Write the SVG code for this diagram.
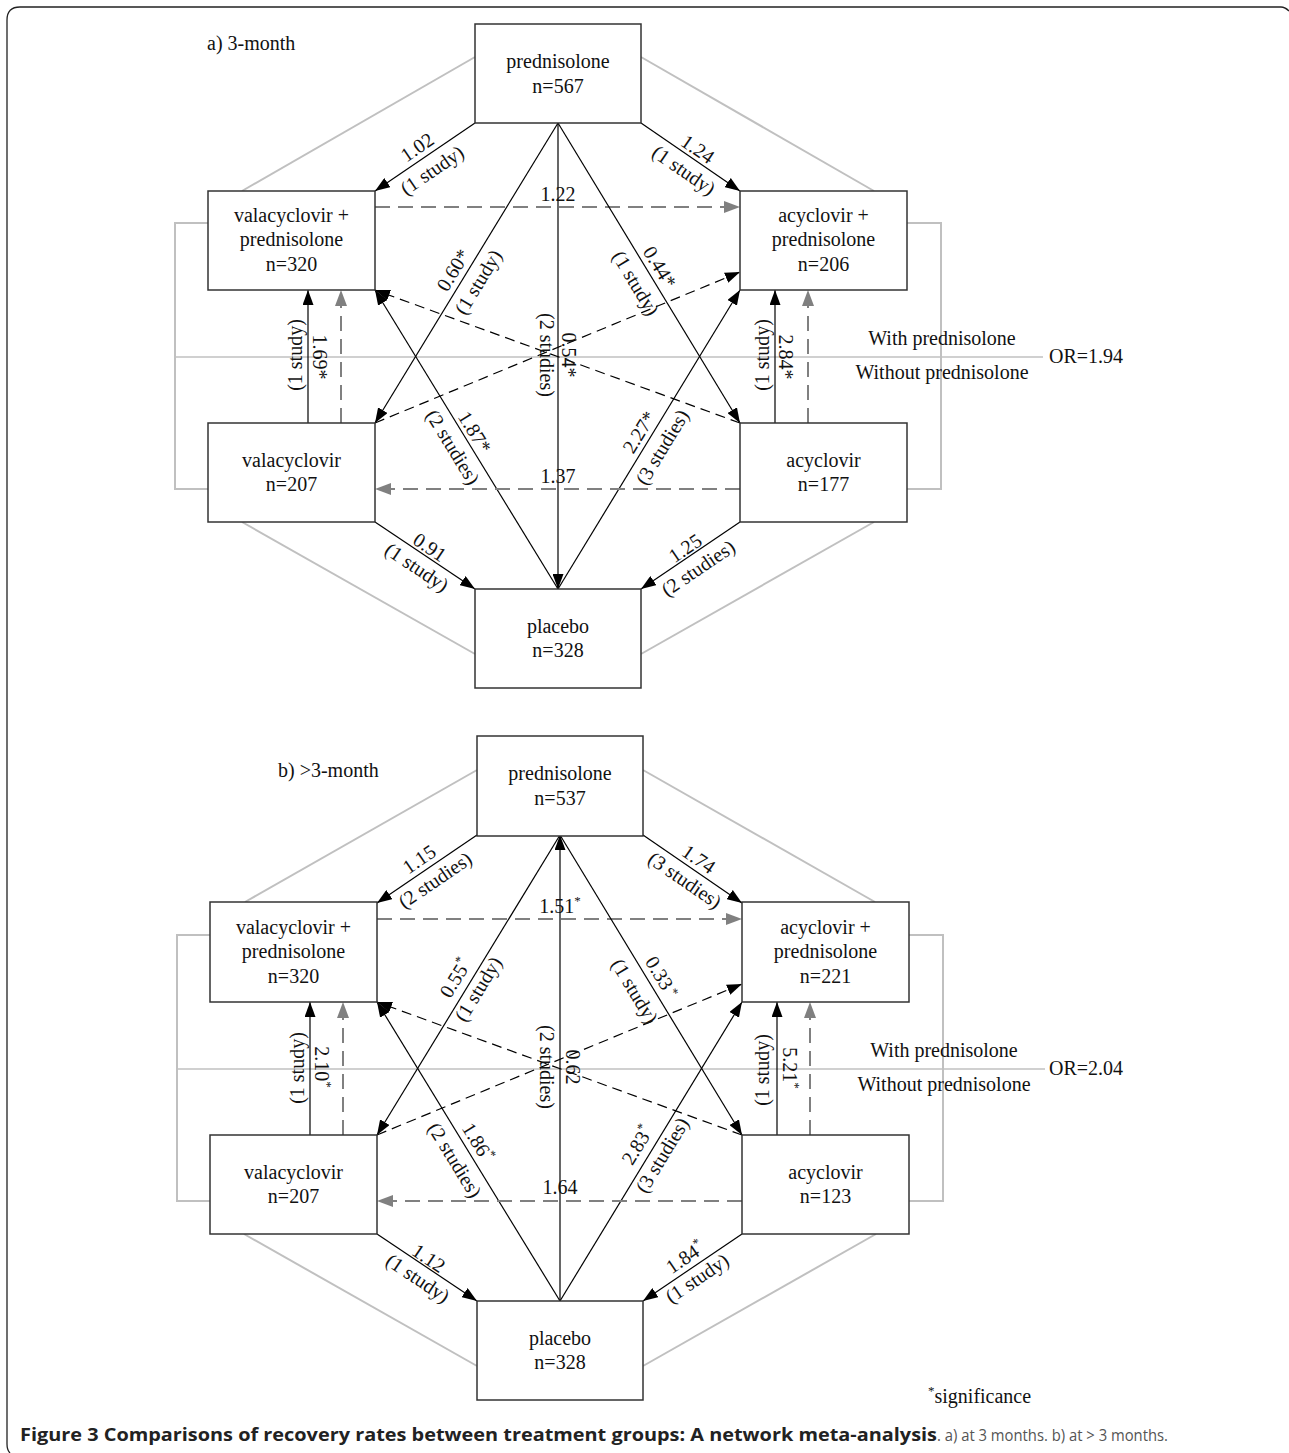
<svg xmlns="http://www.w3.org/2000/svg" width="1289" height="1453" viewBox="0 0 1289 1453">
<style>
.bx{fill:#fff;stroke:#333;stroke-width:1.5}
.t{font-family:"Liberation Serif","Times New Roman",serif;font-size:20px;fill:#111;text-anchor:middle}
.tl{font-family:"Liberation Serif","Times New Roman",serif;font-size:20px;fill:#111}
.sup{font-size:13px}
.e{stroke:#000;stroke-width:1.2;fill:none}
.bd{stroke:#000;stroke-width:1.2;stroke-dasharray:10 6;fill:none}
.gd{stroke:#808080;stroke-width:2;stroke-dasharray:15 8;fill:none}
.gl{stroke:#c0c0c0;stroke-width:2;fill:none}
.dv{stroke:#c0c0c0;stroke-width:1.3;fill:none}
.cap{font-family:"Open Sans","Noto Sans",sans-serif;font-size:17px}
</style>
<defs>
<marker id="ab" markerUnits="userSpaceOnUse" markerWidth="15" markerHeight="11" refX="15" refY="5.5" orient="auto"><path d="M0,0 L15,5.5 L0,11 z" fill="#000"/></marker>
<marker id="ag" markerUnits="userSpaceOnUse" markerWidth="16" markerHeight="12" refX="16" refY="6" orient="auto"><path d="M0,0 L16,6 L0,12 z" fill="#808080"/></marker>
</defs>
<rect width="1289" height="1453" fill="#fff"/>
<path d="M10,1453 Q7,1450 7,1444 L7,20 Q7,7 20,7 L1281,7 Q1285,7 1289,11" fill="none" stroke="#222" stroke-width="1.3"/>

<!-- Panel a -->
<g id="panel-a">
<text class="tl" x="207" y="50">a) 3-month</text>
<g id="a-background">
<line class="gl" x1="475" y1="57" x2="242" y2="191"/>
<line class="gl" x1="641" y1="57" x2="874" y2="191"/>
<polyline class="gl" points="208,223 175,223 175,489 208,489"/>
<polyline class="gl" points="907,223 941,223 941,489 907,489"/>
<line class="gl" x1="242" y1="522" x2="475" y2="654"/>
<line class="gl" x1="874" y1="522" x2="641" y2="654"/>
<line class="dv" x1="175" y1="357" x2="1043" y2="357"/>
<text class="t" x="942" y="345">With prednisolone</text>
<text class="t" x="942" y="379">Without prednisolone</text>
<text class="tl" x="1049" y="363">OR=1.94</text>
</g>
<g id="a-connectors">
<line class="e" x1="475" y1="123" x2="375" y2="191" marker-end="url(#ab)"/>
<line class="e" x1="641" y1="123" x2="740" y2="191" marker-end="url(#ab)"/>
<line class="gd" x1="375" y1="207" x2="740" y2="207" marker-end="url(#ag)"/>
<line class="e" x1="558" y1="123" x2="375" y2="423" marker-end="url(#ab)"/>
<line class="e" x1="558" y1="123" x2="740" y2="423" marker-end="url(#ab)"/>
<line class="e" x1="558" y1="123" x2="558" y2="589" marker-end="url(#ab)"/>
<line class="e" x1="558" y1="589" x2="375" y2="290" marker-end="url(#ab)"/>
<line class="e" x1="558" y1="589" x2="740" y2="290" marker-end="url(#ab)"/>
<line class="bd" x1="375" y1="423" x2="740" y2="272" marker-end="url(#ab)"/>
<line class="bd" x1="740" y1="423" x2="375" y2="290" marker-end="url(#ab)"/>
<line class="e" x1="308" y1="423" x2="308" y2="290" marker-end="url(#ab)"/>
<line class="gd" x1="341" y1="423" x2="341" y2="290" marker-end="url(#ag)"/>
<line class="e" x1="775" y1="423" x2="775" y2="290" marker-end="url(#ab)"/>
<line class="gd" x1="808" y1="423" x2="808" y2="290" marker-end="url(#ag)"/>
<line class="gd" x1="740" y1="489" x2="375" y2="489" marker-end="url(#ag)"/>
<line class="e" x1="375" y1="522" x2="475" y2="589" marker-end="url(#ab)"/>
<line class="e" x1="740" y1="522" x2="641" y2="589" marker-end="url(#ab)"/>
</g>
<g id="a-labels">
<text class="t" transform="translate(417,147) rotate(-34.2)" y="7">1.02</text>
<text class="t" transform="translate(432,170) rotate(-34.2)" y="7">(1 study)</text>
<text class="t" transform="translate(698,149) rotate(34.5)" y="7">1.24</text>
<text class="t" transform="translate(684,170) rotate(34.5)" y="7">(1 study)</text>
<text class="t" x="558" y="201">1.22</text>
<text class="t" transform="translate(453,270) rotate(-58.6)" y="7">0.60*</text>
<text class="t" transform="translate(478,282) rotate(-58.6)" y="7">(1 study)</text>
<text class="t" transform="translate(660,267) rotate(58.8)" y="7">0.44*</text>
<text class="t" transform="translate(636,283) rotate(58.8)" y="7">(1 study)</text>
<text class="t" transform="translate(547,355) rotate(90)" y="7">(2 studies)</text>
<text class="t" transform="translate(569,355) rotate(90)" y="7">0.54*</text>
<text class="t" transform="translate(475,432) rotate(58.5)" y="7">1.87*</text>
<text class="t" transform="translate(453,447) rotate(58.5)" y="7">(2 studies)</text>
<text class="t" transform="translate(639,432) rotate(-58.7)" y="7">2.27*</text>
<text class="t" transform="translate(662,447) rotate(-58.7)" y="7">(3 studies)</text>
<text class="t" transform="translate(295,355) rotate(-90)" y="7">(1 study)</text>
<text class="t" transform="translate(320,357) rotate(90)" y="7">1.69*</text>
<text class="t" transform="translate(762,355) rotate(-90)" y="7">(1 study)</text>
<text class="t" transform="translate(786,357) rotate(90)" y="7">2.84*</text>
<text class="t" x="558" y="483">1.37</text>
<text class="t" transform="translate(430,547) rotate(33.8)" y="7">0.91</text>
<text class="t" transform="translate(417,567) rotate(33.8)" y="7">(1 study)</text>
<text class="t" transform="translate(685,548) rotate(-34.1)" y="7">1.25</text>
<text class="t" transform="translate(698,568) rotate(-34.1)" y="7">(2 studies)</text>
</g>
<g id="a-prednisolone"><rect class="bx" x="475" y="24" width="166" height="99"/><text class="t" x="558" y="68">prednisolone</text><text class="t" x="558" y="93">n=567</text></g>
<g id="a-valpred"><rect class="bx" x="208" y="191" width="167" height="99"/><text class="t" x="291.5" y="222">valacyclovir +</text><text class="t" x="291.5" y="246">prednisolone</text><text class="t" x="291.5" y="271">n=320</text></g>
<g id="a-acypred"><rect class="bx" x="740" y="191" width="167" height="99"/><text class="t" x="823.5" y="222">acyclovir +</text><text class="t" x="823.5" y="246">prednisolone</text><text class="t" x="823.5" y="271">n=206</text></g>
<g id="a-val"><rect class="bx" x="208" y="423" width="167" height="99"/><text class="t" x="291.5" y="467">valacyclovir</text><text class="t" x="291.5" y="491">n=207</text></g>
<g id="a-acy"><rect class="bx" x="740" y="423" width="167" height="99"/><text class="t" x="823.5" y="467">acyclovir</text><text class="t" x="823.5" y="491">n=177</text></g>
<g id="a-placebo"><rect class="bx" x="475" y="589" width="166" height="99"/><text class="t" x="558" y="633">placebo</text><text class="t" x="558" y="657">n=328</text></g>
</g>

<!-- Panel b -->
<text class="tl" x="278" y="777">b) &gt;3-month</text>
<g id="panel-b" transform="translate(2,712)">
<g id="b-background">
<line class="gl" x1="475" y1="58" x2="243" y2="190"/>
<line class="gl" x1="641" y1="58" x2="873" y2="190"/>
<polyline class="gl" points="208,223 175,223 175,489 208,489"/>
<polyline class="gl" points="907,223 941,223 941,489 907,489"/>
<line class="gl" x1="242" y1="522" x2="475" y2="654"/>
<line class="gl" x1="874" y1="522" x2="641" y2="654"/>
<line class="dv" x1="175" y1="357" x2="1043" y2="357"/>
<text class="t" x="942" y="345">With prednisolone</text>
<text class="t" x="942" y="379">Without prednisolone</text>
<text class="tl" x="1047" y="363">OR=2.04</text>
</g>
<g id="b-connectors">
<line class="e" x1="475" y1="123" x2="375" y2="191" marker-end="url(#ab)"/>
<line class="e" x1="641" y1="123" x2="740" y2="191" marker-end="url(#ab)"/>
<line class="gd" x1="375" y1="207" x2="740" y2="207" marker-end="url(#ag)"/>
<line class="e" x1="558" y1="123" x2="375" y2="423" marker-end="url(#ab)"/>
<line class="e" x1="558" y1="123" x2="740" y2="423" marker-end="url(#ab)"/>
<line class="e" x1="558" y1="589" x2="558" y2="123" marker-end="url(#ab)"/>
<line class="e" x1="558" y1="589" x2="375" y2="290" marker-end="url(#ab)"/>
<line class="e" x1="558" y1="589" x2="740" y2="290" marker-end="url(#ab)"/>
<line class="bd" x1="375" y1="423" x2="740" y2="272" marker-end="url(#ab)"/>
<line class="bd" x1="740" y1="423" x2="375" y2="290" marker-end="url(#ab)"/>
<line class="e" x1="308" y1="423" x2="308" y2="290" marker-end="url(#ab)"/>
<line class="gd" x1="341" y1="423" x2="341" y2="290" marker-end="url(#ag)"/>
<line class="e" x1="775" y1="423" x2="775" y2="290" marker-end="url(#ab)"/>
<line class="gd" x1="808" y1="423" x2="808" y2="290" marker-end="url(#ag)"/>
<line class="gd" x1="740" y1="489" x2="375" y2="489" marker-end="url(#ag)"/>
<line class="e" x1="375" y1="522" x2="475" y2="589" marker-end="url(#ab)"/>
<line class="e" x1="740" y1="522" x2="641" y2="589" marker-end="url(#ab)"/>
</g>
<g id="b-labels">
<text class="t" transform="translate(417,147) rotate(-34.2)" y="7">1.15</text>
<text class="t" transform="translate(433,168) rotate(-34.2)" y="7">(2 studies)</text>
<text class="t" transform="translate(697,147) rotate(34.5)" y="7">1.74</text>
<text class="t" transform="translate(683,168) rotate(34.5)" y="7">(3 studies)</text>
<text class="t" x="558" y="201">1.51<tspan class="sup" dy="-8">*</tspan></text>
<text class="t" transform="translate(453,266) rotate(-58.6)" y="7">0.55<tspan class="sup" dy="-8">*</tspan></text>
<text class="t" transform="translate(476,277) rotate(-58.6)" y="7">(1 study)</text>
<text class="t" transform="translate(660,265) rotate(58.8)" y="7">0.33<tspan class="sup" dx="3" dy="-5">*</tspan></text>
<text class="t" transform="translate(633,279) rotate(58.8)" y="7">(1 study)</text>
<text class="t" transform="translate(545,355) rotate(90)" y="7">(2 studies)</text>
<text class="t" transform="translate(571,355) rotate(90)" y="7">0.62</text>
<text class="t" transform="translate(476,430) rotate(58.5)" y="7">1.86<tspan class="sup" dy="-8">*</tspan></text>
<text class="t" transform="translate(453,448) rotate(58.5)" y="7">(2 studies)</text>
<text class="t" transform="translate(635,433) rotate(-58.7)" y="7">2.83<tspan class="sup" dy="-8">*</tspan></text>
<text class="t" transform="translate(660,443) rotate(-58.7)" y="7">(3 studies)</text>
<text class="t" transform="translate(295,356) rotate(-90)" y="7">(1 study)</text>
<text class="t" transform="translate(320,355) rotate(90)" y="7">2.10<tspan class="sup" dy="-8">*</tspan></text>
<text class="t" transform="translate(760,358) rotate(-90)" y="7">(1 study)</text>
<text class="t" transform="translate(788,356) rotate(90)" y="7">5.21<tspan class="sup" dy="-8">*</tspan></text>
<text class="t" x="558" y="482">1.64</text>
<text class="t" transform="translate(427,546) rotate(33.8)" y="7">1.12</text>
<text class="t" transform="translate(416,566) rotate(33.8)" y="7">(1 study)</text>
<text class="t" transform="translate(683,545) rotate(-34.1)" y="7">1.84<tspan class="sup" dy="-8">*</tspan></text>
<text class="t" transform="translate(695,566) rotate(-34.1)" y="7">(1 study)</text>
</g>
<g id="b-prednisolone"><rect class="bx" x="475" y="24" width="166" height="100"/><text class="t" x="558" y="68">prednisolone</text><text class="t" x="558" y="93">n=537</text></g>
<g id="b-valpred"><rect class="bx" x="208" y="190" width="167" height="100"/><text class="t" x="291.5" y="222">valacyclovir +</text><text class="t" x="291.5" y="246">prednisolone</text><text class="t" x="291.5" y="271">n=320</text></g>
<g id="b-acypred"><rect class="bx" x="740" y="190" width="167" height="100"/><text class="t" x="823.5" y="222">acyclovir +</text><text class="t" x="823.5" y="246">prednisolone</text><text class="t" x="823.5" y="271">n=221</text></g>
<g id="b-val"><rect class="bx" x="208" y="423" width="167" height="99"/><text class="t" x="291.5" y="467">valacyclovir</text><text class="t" x="291.5" y="491">n=207</text></g>
<g id="b-acy"><rect class="bx" x="740" y="423" width="167" height="99"/><text class="t" x="823.5" y="467">acyclovir</text><text class="t" x="823.5" y="491">n=123</text></g>
<g id="b-placebo"><rect class="bx" x="475" y="589" width="166" height="99"/><text class="t" x="558" y="633">placebo</text><text class="t" x="558" y="657">n=328</text></g>
</g>

<text class="tl" x="928" y="1403"><tspan class="sup" dy="-8">*</tspan><tspan dy="8">significance</tspan></text>
<text class="cap" x="20" y="1441" font-weight="bold" fill="#222" textLength="917" lengthAdjust="spacingAndGlyphs">Figure 3 Comparisons of recovery rates between treatment groups: A network meta-analysis</text>
<text class="cap" x="937" y="1441" fill="#555" textLength="231" lengthAdjust="spacingAndGlyphs">. a) at 3 months. b) at &gt; 3 months.</text>
</svg>
